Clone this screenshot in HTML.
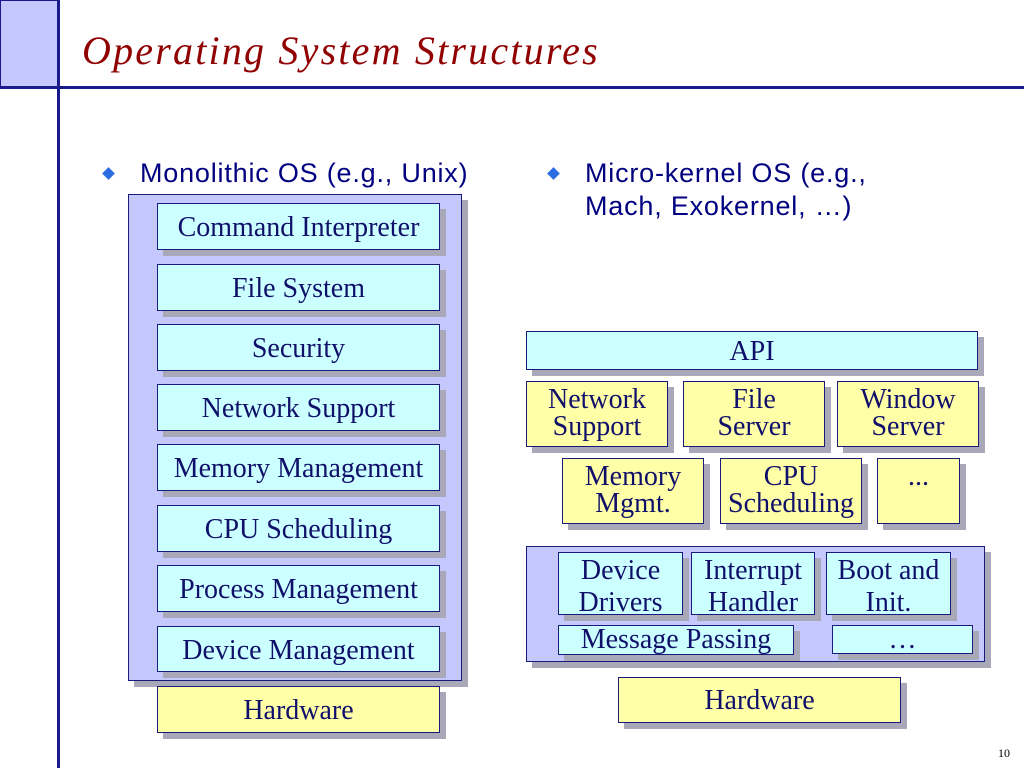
<!DOCTYPE html><html><head><style>
body{margin:0;width:1024px;height:768px;background:#fff;position:relative;overflow:hidden;font-family:"Liberation Serif",serif}
.b{position:absolute;box-sizing:border-box;border:1.5px solid #1a1a7a;color:#10106a;font-size:28px;text-align:center;line-height:27px;box-shadow:6px 6px 0 #a8a8b8;white-space:nowrap}
.c{background:#ccffff}.y{background:#ffffa8}.p{background:#c4c8fc}
.t{position:absolute;color:#000080;font-family:"Liberation Sans",sans-serif;font-size:27px;letter-spacing:0.8px;line-height:33px}
.d{position:absolute;width:9px;height:9px;background:#2a6de0;transform:rotate(45deg)}
</style></head><body>
<div style="position:absolute;left:0;top:0;width:58px;height:88px;background:#c4c8fc;box-sizing:border-box;border:1px solid #1a1a8a"></div>
<div style="position:absolute;left:57px;top:0;width:3px;height:768px;background:#1a1a8a"></div>
<div style="position:absolute;left:0;top:86px;width:1024px;height:3px;background:#1a1a8a"></div>
<div style="position:absolute;left:82px;top:27px;color:#900000;font-style:italic;font-size:40px;letter-spacing:2.2px">Operating System Structures</div>
<div class="d" style="left:104px;top:169px"></div>
<div class="t" style="left:140px;top:157px">Monolithic OS (e.g., Unix)</div>
<div class="d" style="left:549px;top:169px"></div>
<div class="t" style="left:585px;top:157px">Micro-kernel OS (e.g.,<br>Mach, Exokernel, …)</div>

<div class="b p" style="left:128px;top:194px;width:334px;height:487px"></div>
<div class="b c" style="left:157px;top:203px;width:283px;height:47px;padding-top:10px">Command Interpreter</div>
<div class="b c" style="left:157px;top:264px;width:283px;height:47px;padding-top:10px">File System</div>
<div class="b c" style="left:157px;top:324px;width:283px;height:47px;padding-top:10px">Security</div>
<div class="b c" style="left:157px;top:384px;width:283px;height:47px;padding-top:10px">Network Support</div>
<div class="b c" style="left:157px;top:444px;width:283px;height:47px;padding-top:10px">Memory Management</div>
<div class="b c" style="left:157px;top:505px;width:283px;height:47px;padding-top:10px">CPU Scheduling</div>
<div class="b c" style="left:157px;top:565px;width:283px;height:47px;padding-top:10px">Process Management</div>
<div class="b c" style="left:157px;top:626px;width:283px;height:46px;padding-top:10px">Device Management</div>
<div class="b y" style="left:157px;top:686px;width:283px;height:47px;padding-top:10px">Hardware</div>

<div class="b c" style="left:526px;top:331px;width:452px;height:39px;padding-top:6px">API</div>
<div class="b y" style="left:526px;top:381px;width:142px;height:66px;padding-top:4px">Network<br>Support</div>
<div class="b y" style="left:683px;top:381px;width:142px;height:66px;padding-top:4px">File<br>Server</div>
<div class="b y" style="left:837px;top:381px;width:142px;height:66px;padding-top:4px">Window<br>Server</div>
<div class="b y" style="left:562px;top:458px;width:142px;height:66px;padding-top:4px">Memory<br>Mgmt.</div>
<div class="b y" style="left:720px;top:458px;width:142px;height:66px;padding-top:4px">CPU<br>Scheduling</div>
<div class="b y" style="left:877px;top:458px;width:83px;height:66px;padding-top:4px">...</div>
<div class="b p" style="left:526px;top:546px;width:459px;height:116px"></div>
<div class="b c" style="left:558px;top:552px;width:125px;height:63px;padding-top:2px;line-height:32px">Device<br>Drivers</div>
<div class="b c" style="left:691px;top:552px;width:124px;height:63px;padding-top:2px;line-height:32px">Interrupt<br>Handler</div>
<div class="b c" style="left:826px;top:552px;width:125px;height:63px;padding-top:2px;line-height:32px">Boot and<br>Init.</div>
<div class="b c" style="left:558px;top:625px;width:236px;height:30px;line-height:28px">Message Passing</div>
<div class="b c" style="left:832px;top:625px;width:141px;height:29px;line-height:28px">…</div>
<div class="b y" style="left:618px;top:677px;width:283px;height:46px;padding-top:9px">Hardware</div>
<div style="position:absolute;left:998px;top:746px;font-size:12px">10</div>
</body></html>
